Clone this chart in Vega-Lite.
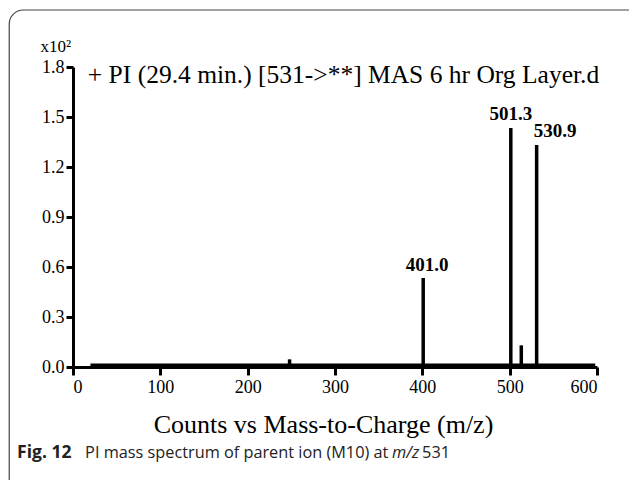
{
  "$schema": "https://vega.github.io/schema/vega-lite/v6.json",
  "width": 524,
  "height": 300,
  "autosize": {"type": "none"},
  "padding": {"left": 73, "top": 67, "right": 32, "bottom": 113},
  "background": "white",
  "config": {
    "view": {"stroke": null},
    "axis": {"grid": false, "domainColor": "black", "tickColor": "black", "labelColor": "black", "titleColor": "black", "labelFont": "Liberation Serif", "titleFont": "Liberation Serif", "labelFontSize": 18, "domainWidth": 3, "tickWidth": 3}
  },
  "datasets": {
    "peaks": [
      {"mz": 248, "intensity": 0.046, "label": ""},
      {"mz": 401.0, "intensity": 0.534, "label": "401.0"},
      {"mz": 501.3, "intensity": 1.434, "label": "501.3"},
      {"mz": 513.3, "intensity": 0.13, "label": ""},
      {"mz": 530.9, "intensity": 1.332, "label": "530.9"}
    ],
    "baseline": [
      {"mz_start": 20, "mz_end": 598, "intensity": 0.008}
    ]
  },
  "layer": [
    {
      "data": {"values": [{}]},
      "mark": {"type": "rect", "fill": null, "stroke": "#444", "strokeWidth": 1.2, "cornerRadius": 14, "clip": false},
      "encoding": {
        "x": {"datum": -73, "type": "quantitative", "scale": {"domain": [0, 600], "nice": false}},
        "x2": {"datum": 720},
        "y": {"datum": 2.142, "type": "quantitative", "scale": {"domain": [0, 1.8], "nice": false}},
        "y2": {"datum": -0.85}
      }
    },
    {
      "data": {"name": "baseline"},
      "mark": {"type": "rule", "color": "black", "strokeWidth": 4.5},
      "encoding": {
        "x": {"field": "mz_start", "type": "quantitative"},
        "x2": {"field": "mz_end"},
        "y": {"field": "intensity", "type": "quantitative"}
      }
    },
    {
      "data": {"name": "peaks"},
      "mark": {"type": "rule", "color": "black", "strokeWidth": 3.5},
      "encoding": {
        "x": {
          "field": "mz", "type": "quantitative",
          "scale": {"domain": [0, 600], "nice": false},
          "axis": {"values": [0, 100, 200, 300, 400, 500, 600], "tickSize": 8, "labelPadding": 3, "title": "Counts vs Mass-to-Charge (m/z)", "titleFontSize": 26, "titleFontWeight": "normal", "titlePadding": 15, "titleX": 250}
        },
        "y": {
          "field": "intensity", "type": "quantitative",
          "scale": {"domain": [0, 1.8], "nice": false},
          "axis": {"values": [0, 0.3, 0.6, 0.9, 1.2, 1.5, 1.8], "format": ".1f", "tickSize": 7, "labelPadding": 2, "title": "x10²", "titleAngle": 0, "titleFontSize": 17, "titleFontWeight": "normal", "titleAlign": "left", "titleBaseline": "alphabetic", "titleX": -33, "titleY": -16}
        },
        "y2": {"datum": 0}
      }
    },
    {
      "data": {"name": "peaks"},
      "transform": [{"filter": "datum.label == '501.3'"}],
      "mark": {"type": "text", "font": "Liberation Serif", "fontSize": 19, "fontWeight": "bold", "align": "center", "baseline": "alphabetic", "dy": -8, "color": "black"},
      "encoding": {
        "x": {"field": "mz", "type": "quantitative"},
        "y": {"field": "intensity", "type": "quantitative"},
        "text": {"field": "label"}
      }
    },
    {
      "data": {"name": "peaks"},
      "transform": [{"filter": "datum.label == '401.0'"}],
      "mark": {"type": "text", "font": "Liberation Serif", "fontSize": 19, "fontWeight": "bold", "align": "center", "baseline": "alphabetic", "dx": 4, "dy": -7, "color": "black"},
      "encoding": {
        "x": {"field": "mz", "type": "quantitative"},
        "y": {"field": "intensity", "type": "quantitative"},
        "text": {"field": "label"}
      }
    },
    {
      "data": {"name": "peaks"},
      "transform": [{"filter": "datum.label == '530.9'"}],
      "mark": {"type": "text", "font": "Liberation Serif", "fontSize": 19, "fontWeight": "bold", "align": "left", "baseline": "alphabetic", "dx": -3, "dy": -8, "color": "black"},
      "encoding": {
        "x": {"field": "mz", "type": "quantitative"},
        "y": {"field": "intensity", "type": "quantitative"},
        "text": {"field": "label"}
      }
    },
    {
      "data": {"values": [{"t": "+ PI (29.4 min.) [531->**] MAS 6 hr Org Layer.d"}]},
      "mark": {"type": "text", "font": "Liberation Serif", "fontSize": 25.5, "align": "left", "baseline": "alphabetic", "color": "black", "clip": false},
      "encoding": {
        "x": {"datum": 17, "type": "quantitative"},
        "y": {"datum": 1.704, "type": "quantitative"},
        "text": {"field": "t"}
      }
    },
    {
      "data": {"values": [{"t": "Fig. 12"}]},
      "mark": {"type": "text", "font": "Open Sans", "fontSize": 17.5, "fontWeight": "bold", "align": "left", "baseline": "alphabetic", "color": "#222", "clip": false},
      "encoding": {
        "x": {"datum": -64, "type": "quantitative"},
        "y": {"datum": -0.546, "type": "quantitative"},
        "text": {"field": "t"}
      }
    },
    {
      "data": {"values": [{"t": "PI mass spectrum of parent ion (M10) at"}]},
      "mark": {"type": "text", "font": "Open Sans", "fontSize": 16.3, "align": "left", "baseline": "alphabetic", "color": "#222", "dx": 68, "clip": false},
      "encoding": {
        "x": {"datum": -64, "type": "quantitative"},
        "y": {"datum": -0.546, "type": "quantitative"},
        "text": {"field": "t"}
      }
    },
    {
      "data": {"values": [{"t": "m/z"}]},
      "mark": {"type": "text", "font": "Open Sans", "fontSize": 16.3, "fontStyle": "italic", "align": "left", "baseline": "alphabetic", "color": "#222", "dx": 375, "clip": false},
      "encoding": {
        "x": {"datum": -64, "type": "quantitative"},
        "y": {"datum": -0.546, "type": "quantitative"},
        "text": {"field": "t"}
      }
    },
    {
      "data": {"values": [{"t": "531"}]},
      "mark": {"type": "text", "font": "Open Sans", "fontSize": 16.3, "align": "left", "baseline": "alphabetic", "color": "#222", "dx": 405, "clip": false},
      "encoding": {
        "x": {"datum": -64, "type": "quantitative"},
        "y": {"datum": -0.546, "type": "quantitative"},
        "text": {"field": "t"}
      }
    }
  ]
}
